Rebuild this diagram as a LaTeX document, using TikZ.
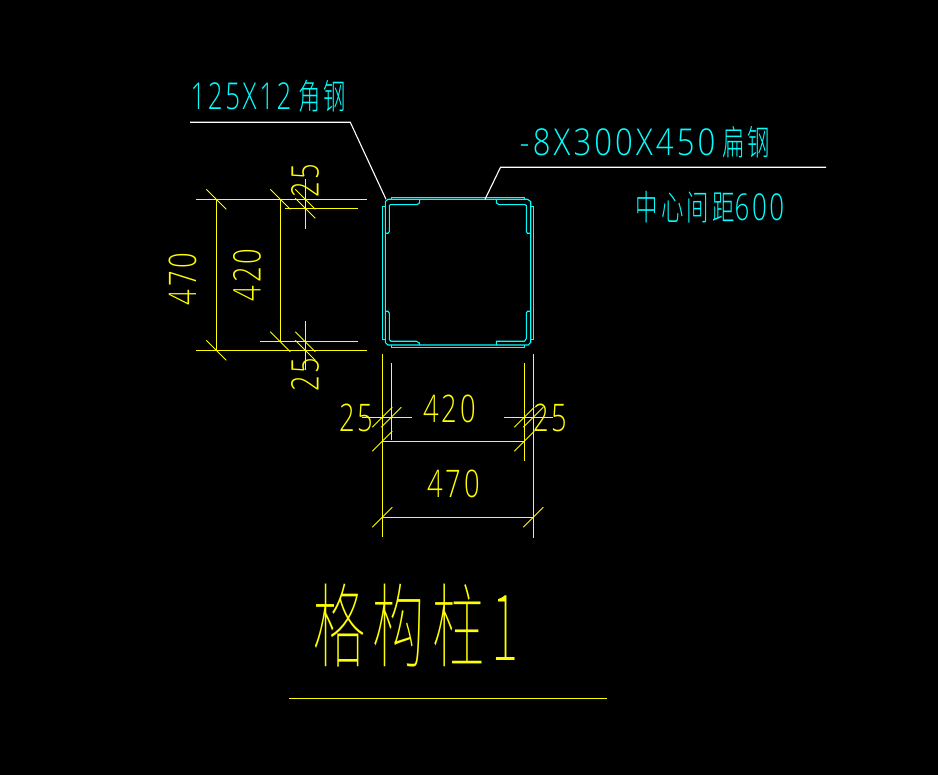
\documentclass[tikz,border=0pt]{standalone}
\usepackage{fontspec}
\newfontfamily\lat[LetterSpace=10]{Open Sans Light}
\newfontfamily\cjk[LetterSpace=14]{Noto Sans CJK SC Thin}
\newfontfamily\cjksmall[LetterSpace=14]{Noto Sans CJK SC Light}
\newcommand\cadnum[1]{\scalebox{0.72}[1]{\fontsize{38}{38}\selectfont\lat #1}}
\newcommand\cadlab[3]{\scalebox{#1}[1]{\fontsize{37}{37}\selectfont\lat #2}\hspace{7pt}\scalebox{0.64}[1]{\fontsize{35}{35}\selectfont\cjksmall #3}}
\definecolor{cadcyan}{RGB}{0,255,255}
\definecolor{cadyellow}{RGB}{255,255,0}
\tikzset{
  steel/.style={draw=cadcyan,line width=1.1pt},
  dimline/.style={draw=cadyellow,line width=1.1pt},
  tick/.style={draw=cadyellow,line width=0.9pt},
  leaderline/.style={draw=white,line width=1.1pt},
  dimtext/.style={text=cadyellow,inner sep=0pt,anchor=center},
  labeltext/.style={text=cadcyan,inner sep=0pt,anchor=center}
}
\begin{document}
\begin{tikzpicture}[x=1pt,y=-1pt]
\fill[black] (0,0) rectangle (938,775);
\useasboundingbox (0,0) rectangle (938,775);
% steel: main box
\draw[steel] (388,199.3) -- (527.5,199.3) -- (530.7,201.5) -- (530.7,342.5) -- (528,345) -- (388,345) -- (385.3,342.5) -- (385.3,201.5) -- cycle;
% plates
\draw[steel] (391.7,199.3) -- (391.7,197.3) -- (524.6,197.3) -- (524.6,199.3);
\draw[steel] (391.5,345) -- (391.5,347.3) -- (524.6,347.3) -- (524.6,345);
\draw[steel] (385.3,206.3) -- (382.3,206.3) -- (382.3,339.6) -- (385.3,339.6);
\draw[steel] (530.7,206.3) -- (533.3,206.3) -- (533.3,339.6) -- (530.7,339.6);
% angles
\draw[steel] (385.5,233.3) -- (388,233.3) -- (389.3,231.5) -- (389.3,205.5) -- (390.5,204.6) -- (417,204.6) -- (419.5,203) -- (419.7,199.3);
\draw[steel] (530.5,233.3) -- (527.5,233.3) -- (526.3,231.5) -- (526.3,205.5) -- (525,204.6) -- (499,204.6) -- (496.5,203) -- (496.3,199.3);
\draw[steel] (385.5,311.3) -- (388,311.3) -- (389.3,313) -- (389.3,339.5) -- (391,341.3) -- (416.5,341.3) -- (419.3,343) -- (419.7,345);
\draw[steel] (530.5,311.3) -- (527.5,311.3) -- (526.3,313) -- (526.3,338.5) -- (524.5,341.3) -- (496.5,341.3) -- (496.3,345);
% leaders
\draw[leaderline] (190,122.3) -- (350.3,122.3) -- (386,199.3);
\draw[leaderline] (826,167.3) -- (500.5,167.3) -- (485,199.3);
% left dimensions
\draw[dimline] (196,199.3) -- (367,199.3);
\draw[dimline] (196,350.3) -- (367,350.3);
\draw[dimline] (285,208.3) -- (358,208.3);
\draw[dimline] (260,341.7) -- (358,341.7);
\draw[dimline] (216.3,199.3) -- (216.3,350.3);
\draw[dimline] (280.3,199.3) -- (280.3,341.7);
\draw[dimline] (305.3,179) -- (305.3,228.7);
\draw[dimline] (305.3,321) -- (305.3,370.5);
\foreach \cx/\cy in {216.3/199.3,216.3/350.3,280.3/199.3,280.3/341.7,305.3/199.3,305.3/208.3,305.3/341.7,305.3/350.3}
  \draw[tick] (\cx-10,\cy-10) -- (\cx+10,\cy+10);
% bottom dimensions
\draw[dimline] (382.3,354) -- (382.3,537);
\draw[dimline] (533.3,354) -- (533.3,537.7);
\draw[dimline] (391.3,363) -- (391.3,440);
\draw[dimline] (524.3,363) -- (524.3,461.5);
\draw[dimline] (362,417.3) -- (411.7,417.3);
\draw[dimline] (504,417.3) -- (552.7,417.3);
\draw[dimline] (382.3,441.3) -- (524.3,441.3);
\draw[dimline] (382.3,517.3) -- (533.3,517.3);
\foreach \cx/\cy in {382.3/417.3,391.3/417.3,382.3/441.3,524.3/441.3,524.3/417.3,533.3/417.3,382.3/517.3,533.3/517.3}
  \draw[tick] (\cx-10,\cy+10) -- (\cx+10,\cy-10);
% title underline
\draw[dimline] (289,698.3) -- (607,698.3);
% dimension texts
\node[dimtext,rotate=90] (d470l) at (182.5,279) {\cadnum{470}};
\node[dimtext,rotate=90] (d420l) at (247,275) {\cadnum{420}};
\node[dimtext,rotate=90] (d25a) at (305,181) {\cadnum{25}};
\node[dimtext,rotate=90] (d25b) at (305,375) {\cadnum{25}};
\node[dimtext] (d25c) at (356,418) {\cadnum{25}};
\node[dimtext] (d420b) at (449.5,409) {\cadnum{420}};
\node[dimtext] (d25d) at (550,418) {\cadnum{25}};
\node[dimtext] (d470b) at (453.5,483.5) {\cadnum{470}};
% labels
\node[labeltext] (lab1) at (268.5,96) {\cadlab{0.70}{125X12}{角钢}};
\node[labeltext] (lab2) at (645,142) {\cadlab{0.84}{-8X300X450}{扁钢}};
\node[labeltext] (lab3) at (710,207) {\scalebox{0.64}[1]{\fontsize{35}{35}\selectfont\cjksmall 中心间距}\scalebox{0.70}[1]{\fontsize{37}{37}\selectfont\lat 600}};
% title
\node[dimtext] (title) at (416,626) {\scalebox{0.565}[1]{\fontsize{92}{92}\selectfont\cjk 格构柱1}};
\end{tikzpicture}
\end{document}
